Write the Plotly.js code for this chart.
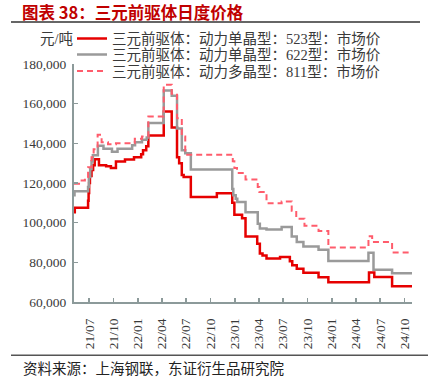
<!DOCTYPE html>
<html>
<head>
<meta charset="utf-8">
<script src="https://cdn.plot.ly/plotly-3.0.1.min.js"></script>
<style>html,body{margin:0;padding:0;background:#fff;}#chart{width:429px;height:384px;}</style>
</head>
<body>
<div id="chart"></div>
<script>
// 三元前驱体：动力单晶型：523型：市场价
const dates523 = ['2021-05-05','2021-05-08','2021-06-27','2021-06-29','2021-07-01','2021-07-04','2021-07-10','2021-07-16','2021-07-22','2021-08-07','2021-09-03','2021-09-21','2021-10-10','2021-11-13','2021-12-17','2022-01-13','2022-01-20','2022-02-01','2022-02-09','2022-04-08','2022-05-08','2022-05-28','2022-06-05','2022-06-15','2022-06-22','2022-07-19','2022-10-25','2022-12-22','2022-12-30','2023-01-28','2023-02-10','2023-03-26','2023-04-05','2023-04-15','2023-04-30','2023-06-20','2023-07-27','2023-08-05','2023-08-22','2023-09-16','2023-11-12','2023-12-19','2024-05-20','2024-06-09','2024-08-15','2024-10-29'];
const price523 = [105300,107500,111000,115000,120000,123500,126500,129000,132000,129000,128500,127500,130800,131800,133000,134500,136500,138500,144000,156000,148000,133000,130000,124000,123000,113000,114800,110000,104000,102200,93000,89400,84400,83500,81900,82700,80500,78500,76800,74800,72500,70000,74900,72600,68000,68000];

// 三元前驱体：动力单晶型：622型：市场价
const dates622 = ['2021-05-05','2021-05-07','2021-06-27','2021-06-30','2021-07-05','2021-07-10','2021-07-15','2021-08-03','2021-08-24','2021-09-25','2021-10-16','2021-12-10','2021-12-21','2022-01-16','2022-02-03','2022-02-09','2022-04-08','2022-05-08','2022-05-28','2022-06-15','2022-06-28','2022-07-19','2022-12-22','2022-12-26','2023-01-04','2023-01-10','2023-02-10','2023-03-28','2023-04-05','2023-04-30','2023-06-26','2023-08-03','2023-08-22','2023-09-16','2023-11-12','2023-12-19','2024-05-18','2024-06-06','2024-08-15','2024-10-29'];
const price622 = [113800,115800,118000,123000,127000,131000,134000,138800,137300,135800,137300,139000,140600,141800,143000,150300,166700,164000,147500,136500,135000,126800,117000,113800,112100,110400,105300,99500,97000,96500,97800,93000,90200,88000,86400,80700,84800,76300,74500,74500];

// 三元前驱体：动力多晶型：811型：市场价
const dates811 = ['2021-05-05','2021-05-24','2021-06-15','2021-06-27','2021-07-10','2021-07-18','2021-08-02','2021-08-17','2021-09-10','2021-10-10','2021-12-20','2022-01-16','2022-02-09','2022-04-08','2022-05-08','2022-05-28','2022-06-15','2022-06-28','2022-12-24','2022-12-30','2023-01-09','2023-02-10','2023-03-28','2023-04-03','2023-04-30','2023-06-26','2023-08-03','2023-08-20','2023-09-20','2023-11-12','2023-12-19','2024-05-18','2024-06-01','2024-08-15','2024-10-29'];
const price811 = [119600,121300,123000,128000,133000,137000,144300,140600,139500,140000,142300,143500,153500,169500,165000,152700,143500,134300,131000,127500,125000,121800,118000,115400,109800,110700,106000,102000,98400,95800,87500,93100,90200,85000,85000];

const seriesNames = ['三元前驱体：动力单晶型：523型：市场价','三元前驱体：动力单晶型：622型：市场价','三元前驱体：动力多晶型：811型：市场价'];
const tickVals = ['2021-07-01','2021-10-01','2022-01-01','2022-04-01','2022-07-01','2022-10-01','2023-01-01','2023-04-01','2023-07-01','2023-10-01','2024-01-01','2024-04-01','2024-07-01','2024-10-01'];
const tickText = ['21/07','21/10','22/01','22/04','22/07','22/10','23/01','23/04','23/07','23/10','24/01','24/04','24/07','24/10'];
const yTicks = [60000,80000,100000,120000,140000,160000,180000];

const serif = 'Liberation Serif, Noto Sans CJK SC, serif';
const axisColor = '#8c9a9a';
const textColor = '#3a3a3a';

const traces = [
  {x: dates523, y: price523, name: seriesNames[0], type: 'scatter', mode: 'lines', line: {shape: 'hv', color: '#e60000', width: 2.5}, legend: 'legend'},
  {x: dates622, y: price622, name: seriesNames[1], type: 'scatter', mode: 'lines', line: {shape: 'hv', color: '#9a9a9a', width: 2.5}, legend: 'legend2'},
  {x: dates811, y: price811, name: seriesNames[2], type: 'scatter', mode: 'lines', line: {shape: 'hv', color: '#ff5c6c', width: 2, dash: '6px,4px'}, legend: 'legend3'}
];

const L = 74, R = 412, T = 63.5, B = 301.7;
const px = v => (v - L) / (R - L);
const py = v => (B - v) / (B - T);

function leg(row) {
  return {x: px(72), xanchor: 'left', y: py(row), yanchor: 'middle', bgcolor: 'rgba(0,0,0,0)', borderwidth: 0,
          font: {family: serif, size: 14.5, color: textColor}, itemwidth: 30};
}

const layout = {
  width: 429, height: 384,
  margin: {l: L, r: 429 - R, t: T, b: 384 - B, autoexpand: false},
  paper_bgcolor: '#fff', plot_bgcolor: '#fff',
  showlegend: true,
  legend: leg(38), legend2: leg(54), legend3: leg(70.7),
  xaxis: {type: 'date', range: ['2021-05-05', '2024-10-29'], tickvals: tickVals, ticktext: tickText, tickangle: -90,
          ticks: 'inside', ticklen: 4, tickwidth: 1.5, tickcolor: axisColor, showline: true, linecolor: axisColor, linewidth: 2,
          showgrid: false, zeroline: false, ticklabelstandoff: 9, tickfont: {family: serif, size: 13.5, color: textColor}},
  yaxis: {range: [60000, 180000], tickvals: yTicks, tickformat: ',d', ticks: 'inside', ticklen: 4, tickwidth: 1.5, tickcolor: axisColor,
          showline: true, linecolor: axisColor, linewidth: 2, showgrid: false, zeroline: false, ticklabelstandoff: 3,
          tickfont: {family: serif, size: 13.5, color: textColor}},
  annotations: [
    {text: '<b>图表 38：三元前驱体日度价格</b>', xref: 'paper', yref: 'paper', x: px(20), y: py(11.5), xanchor: 'left', yanchor: 'middle', showarrow: false,
     font: {family: 'Noto Sans CJK SC', size: 16.5, color: '#c00000'}},
    {text: '元/吨', xref: 'paper', yref: 'paper', x: px(56.5), y: py(38), xanchor: 'center', yanchor: 'middle', showarrow: false,
     font: {family: serif, size: 14.5, color: textColor}},
    {text: '资料来源：上海钢联，东证衍生品研究院', xref: 'paper', yref: 'paper', x: px(21), y: py(367), xanchor: 'left', yanchor: 'middle', showarrow: false,
     font: {family: 'Noto Sans CJK SC', size: 14.5, color: '#222'}}
  ],
  shapes: [
    {type: 'line', xref: 'paper', yref: 'paper', x0: px(11), x1: px(420), y0: py(21.5), y1: py(21.5), line: {color: '#333', width: 1.5}},
    {type: 'line', xref: 'paper', yref: 'paper', x0: px(11), x1: px(428), y0: py(355), y1: py(355), line: {color: '#555', width: 1.5}}
  ]
};

Plotly.newPlot('chart', traces, layout, {staticPlot: true, displayModeBar: false});
</script>
</body>
</html>
